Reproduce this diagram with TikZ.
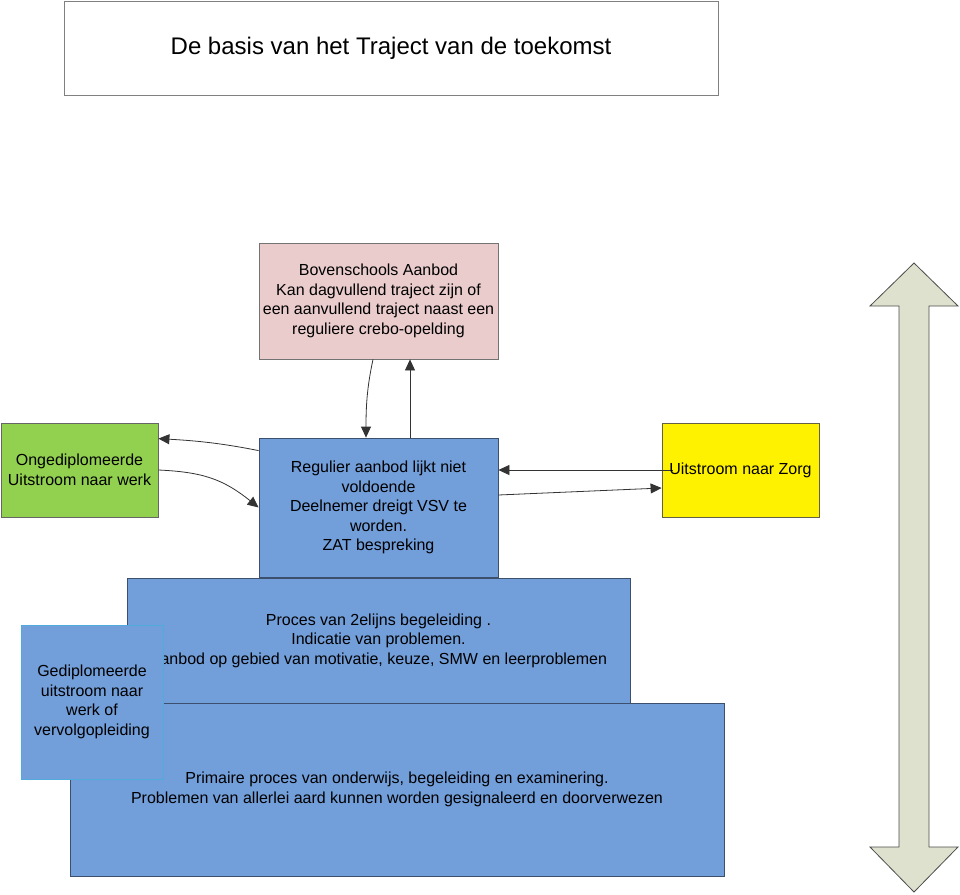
\documentclass[tikz,border=0pt]{standalone}
\usepackage{fontspec}
\setmainfont{Liberation Sans}
\usetikzlibrary{arrows.meta}
\definecolor{boxblue}{RGB}{114,158,218}
\definecolor{blueedge}{RGB}{60,80,110}
\definecolor{pinkfill}{RGB}{235,204,204}
\definecolor{greenfill}{RGB}{146,208,80}
\definecolor{arrowfill}{RGB}{221,225,205}
\definecolor{gedipedge}{RGB}{80,170,220}
\begin{document}
\begin{tikzpicture}[x=1pt,y=-1pt,
  box/.style={draw, inner sep=0pt, align=center, font=\fontsize{16}{19.5}\selectfont, line width=0.8pt},
  conn/.style={draw=black!80, line width=0.8pt, -{Triangle[length=11pt,width=10pt]}}]
\useasboundingbox (0,0) rectangle (960,894);
% title
\node[box, draw=black!50, fill=white, minimum width=654pt, minimum height=94pt, font=\fontsize{24}{28}\selectfont] (title) at (391,48) {De basis van het Traject van de toekomst};
% pink
\node[box, draw=black!55, fill=pinkfill, minimum width=239pt, minimum height=116pt] (pink) at (378.5,301)
 {Bovenschools Aanbod\\Kan dagvullend traject zijn of\\een aanvullend traject naast een\\reguliere crebo-opelding};
% green
\node[box, draw=black!60, fill=greenfill, minimum width=157pt, minimum height=94pt] (green) at (79.5,470)
 {Ongediplomeerde\\Uitstroom naar werk};
% blue1
\node[box, draw=blueedge, fill=boxblue, minimum width=239pt, minimum height=139pt] (blue1) at (378.5,507.5)
 {Regulier aanbod lijkt niet\\voldoende\\Deelnemer dreigt VSV te\\worden.\\ZAT bespreking};
% yellow
\node[box, draw=black!50!yellow!60!black, fill=yellow, minimum width=157pt, minimum height=94pt] (yellow) at (740.5,470)
 {};
% box2
\node[box, draw=blueedge, fill=boxblue, minimum width=503pt, minimum height=125pt] (box2) at (378.5,640.5)
 {Proces van 2elijns begeleiding .\\Indicatie van problemen.\\Aanbod op gebied van motivatie, keuze, SMW en leerproblemen};
% bottom
\node[box, draw=blueedge, fill=boxblue, minimum width=654pt, minimum height=173pt] (bottom) at (397,789.5)
 {Primaire proces van onderwijs, begeleiding en examinering.\\Problemen van allerlei aard kunnen worden gesignaleerd en doorverwezen};
% gediplomeerde
\node[box, draw=gedipedge, fill=boxblue, minimum width=142pt, minimum height=154pt] (gedip) at (92,702)
 {Gediplomeerde\\uitstroom naar\\werk of\\vervolgopleiding};
% connectors
\draw[conn] ([xshift=-5.5pt]pink.south) .. controls +(-6,28) and +(0,-32) .. ([xshift=-12.5pt]blue1.north);
\draw[conn] ([xshift=31.5pt]blue1.north) -- ([xshift=31.5pt]pink.south);
\draw[conn] ([yshift=-13pt]blue1.north west) .. controls +(-40,-8) and +(35,2) .. ([yshift=-16pt]green.north east);
\draw[conn] (green.east) .. controls +(45,2) and +(-35,-28) .. (blue1.west);
\draw[conn] ([xshift=-68pt]yellow.center) -- ([yshift=37.5pt]blue1.east);
\draw[conn] ([yshift=12.5pt]blue1.east) -- ([yshift=-18pt]yellow.west);
\node[font=\fontsize{16}{19.5}\selectfont, inner sep=0pt] (zorg) at (yellow.center) {Uitstroom naar Zorg};
% double arrow
\filldraw[fill=arrowfill, draw=black!70, line width=0.8pt]
  (914,263) -- (958,306) -- (929,306) -- (929,847) -- (958,847) -- (914,892)
  -- (870,847) -- (899,847) -- (899,306) -- (870,306) -- cycle;
\end{tikzpicture}
\end{document}
